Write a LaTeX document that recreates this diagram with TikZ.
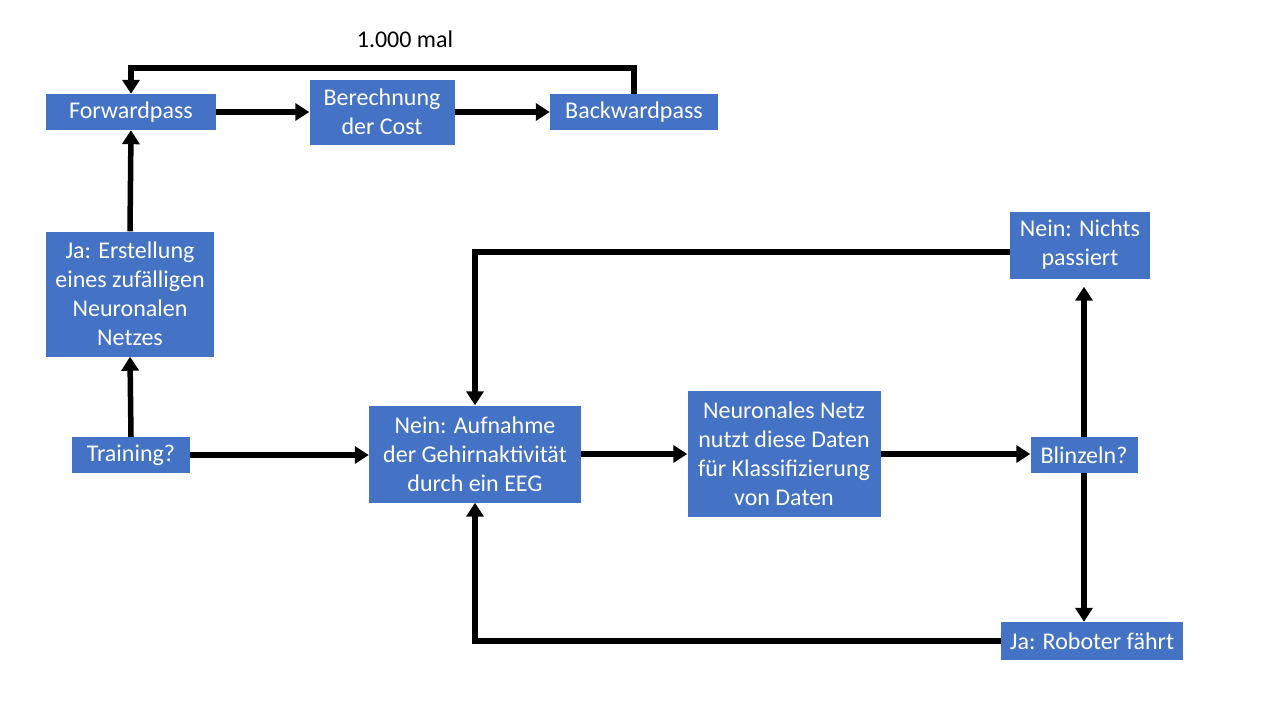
\documentclass[tikz,border=0pt]{standalone}
\usepackage{fontspec}
\setmainfont{Carlito}
\usetikzlibrary{arrows.meta,positioning}
\definecolor{boxblue}{HTML}{4472C4}

\begin{document}
\begin{tikzpicture}[x=1pt,y=-1pt,
  box/.style={fill=boxblue,text=white,align=center,inner sep=0pt,font=\fontsize{24}{29}\selectfont},
  line/.style={-{Triangle[length=14pt,width=17pt]},line width=5.5pt,draw=black}
]
\useasboundingbox (0,0) rectangle (1280,720);
% Trainingsschleife oben
\node[box,minimum width=170pt,minimum height=36pt] (fwd) at (131,112) {Forwardpass};
\node[box,minimum width=145pt,minimum height=65pt] (cost) at (382,112) {Berechnung\\der Cost};
\node[box,minimum width=168pt,minimum height=36pt] (bwd) at (634,112) {Backwardpass};
\node[font=\fontsize{24}{29}\selectfont] (mal) at (405,39) {1.000 mal};
% linke Spalte
\node[box,minimum width=168pt,minimum height=125pt] (netz) at (130,294) {Ja: Erstellung\\eines zufälligen\\Neuronalen\\Netzes};
\node[box,minimum width=118pt,minimum height=36pt] (train) at (131,455) {Training?};
% Klassifizierung
\node[box,minimum width=212pt,minimum height=97pt] (eeg) at (475,454) {Nein: Aufnahme\\der Gehirnaktivität\\durch ein EEG};
\node[box,minimum width=193pt,minimum height=126pt] (klass) at (784,454) {Neuronales Netz\\nutzt diese Daten\\für Klassifizierung\\von Daten};
\node[box,minimum width=107pt,minimum height=36pt] (blink) at (1084,455) {Blinzeln?};
\node[box,minimum width=140pt,minimum height=67pt] (nichts) at (1080,245) {Nein: Nichts\\passiert};
\node[box,minimum width=182pt,minimum height=38pt] (robo) at (1092,641) {Ja: Roboter fährt};

\draw[line] (fwd) -- (cost);
\draw[line] (cost) -- (bwd);
\draw[line] (bwd.north) -- ++(0,-26) -| (fwd.north);
\draw[line] (train.north) -- (netz.south);
\draw[line] (netz.north) -- (fwd.south);
\draw[line] (train.east) -- (train.east -| eeg.west);
\draw[line] (eeg.east) -- (eeg.east -| klass.west);
\draw[line] (klass.east) -- (klass.east -| blink.west);
\draw[line,shorten >=8pt] (blink.north) -- (blink.north |- nichts.south);
\draw[line] (blink.south) -- (blink.south |- robo.north);
\draw[line] ([yshift=-7pt]nichts.west) -| (eeg.north);
\draw[line] (robo.west) -| (eeg.south);
\end{tikzpicture}
\end{document}
